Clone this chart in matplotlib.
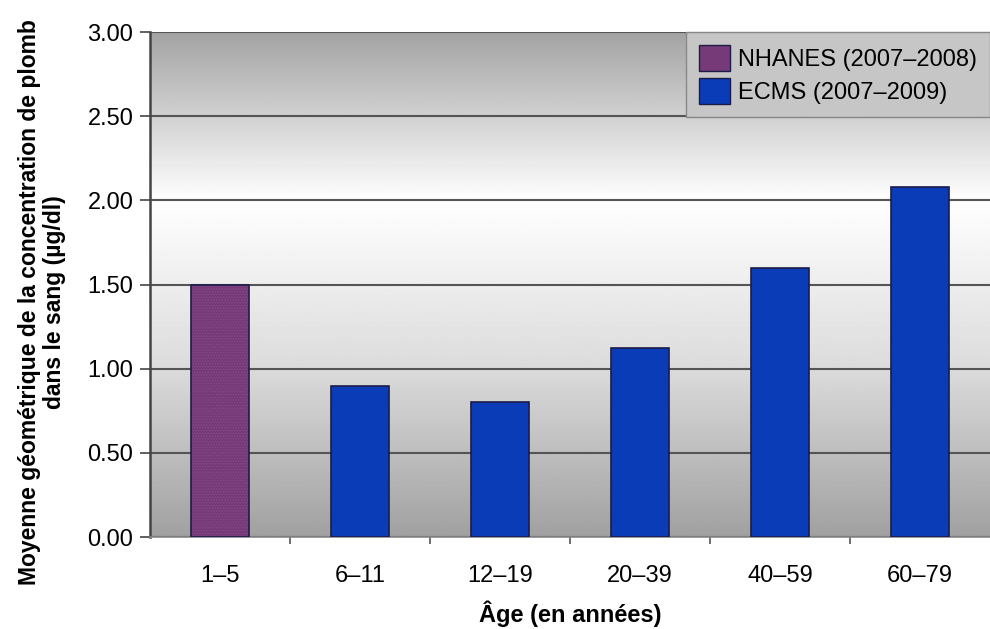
import numpy as np
import matplotlib.pyplot as plt
from matplotlib.patches import Patch

# Groupes d'âge et moyennes géométriques (µg/dl)
groupes = ['1–5', '6–11', '12–19', '20–39', '40–59', '60–79']
moyennes = [1.50, 0.90, 0.80, 1.12, 1.60, 2.08]
sources = ['NHANES (2007–2008)', 'ECMS (2007–2009)', 'ECMS (2007–2009)',
           'ECMS (2007–2009)', 'ECMS (2007–2009)', 'ECMS (2007–2009)']
yticks = [0.0, 0.5, 1.0, 1.5, 2.0, 2.5, 3.0]

couleurs = {'NHANES (2007–2008)': '#763a78', 'ECMS (2007–2009)': '#0a3cb8'}

plt.rcParams['font.family'] = ['Liberation Sans', 'DejaVu Sans']
plt.rcParams['hatch.linewidth'] = 0.6

fig = plt.figure(figsize=(9.9, 6.29), dpi=100)
ax = fig.add_axes([150 / 990, 1 - 537 / 629, 840 / 990, 505 / 629])

# Fond en dégradé gris -> blanc -> gris
yy = np.linspace(0, 3, 300)
niv = np.interp(yy, [0, 1.0, 2.0, 3.0], [0.63, 0.86, 1.0, 0.64])
ax.imshow(niv[:, None], extent=[-0.5, 5.5, 0, 3], origin='lower', aspect='auto',
          cmap='gray', vmin=0, vmax=1, zorder=0, interpolation='bilinear')

x = np.arange(len(groupes))
for xi, v, s in zip(x, moyennes, sources):
    c = couleurs[s]
    ax.bar(xi, v, width=0.41, color=c, edgecolor='none', zorder=3)
    if s.startswith('NHANES'):
        # texture fine de la barre NHANES
        ax.bar(xi, v, width=0.41, color='none', edgecolor='#86488a', hatch='......',
               linewidth=0, zorder=3)
    ax.bar(xi, v, width=0.41, color='none', edgecolor='#1c1c48', linewidth=1.2, zorder=4)

ax.set_xlim(-0.5, 5.5)
ax.set_ylim(0, 3)
ax.set_yticks(yticks)
ax.set_yticklabels([f'{t:.2f}' for t in yticks])
ax.set_xticks(x)
ax.set_xticklabels(groupes)
ax.set_xticks(np.arange(0.5, 5.5, 1), minor=True)
ax.tick_params(axis='x', which='major', length=0, pad=20, labelsize=17)
ax.tick_params(axis='x', which='minor', length=5, color='#555555', width=1.2)
ax.tick_params(axis='y', length=7, width=1.2, color='#444444', labelsize=17, pad=5)
ax.grid(axis='y', color='#555555', linewidth=1.5, zorder=2)
ax.set_axisbelow(True)

for side in ['top', 'right']:
    ax.spines[side].set_visible(False)
ax.spines['left'].set_color('#444444')
ax.spines['left'].set_linewidth(1.8)
ax.spines['bottom'].set_color('#888888')
ax.spines['bottom'].set_linewidth(1.2)

ax.set_ylabel('Moyenne géométrique de la concentration de plomb\ndans le sang (µg/dl)',
              fontsize=16.5, fontweight='bold', linespacing=1.12)
ax.yaxis.set_label_coords(-0.1, 0.465)
ax.set_xlabel('Âge (en années)', fontsize=17, fontweight='bold', labelpad=10)

handles = [Patch(facecolor=couleurs[k], edgecolor='#1c1c48', label=k)
           for k in couleurs]
leg = ax.legend(handles=handles, loc='upper right', bbox_to_anchor=(1.0, 1.0),
                borderaxespad=0, fontsize=17, frameon=True, fancybox=False,
                handlelength=1.3, handleheight=1.3, handletextpad=0.35,
                labelspacing=0.3, borderpad=0.55)
leg.get_frame().set_facecolor('#c6c6c6')
leg.get_frame().set_edgecolor('#888888')
leg.get_frame().set_alpha(1)
leg.set_zorder(5)

fig.savefig('out.png', dpi=100)
